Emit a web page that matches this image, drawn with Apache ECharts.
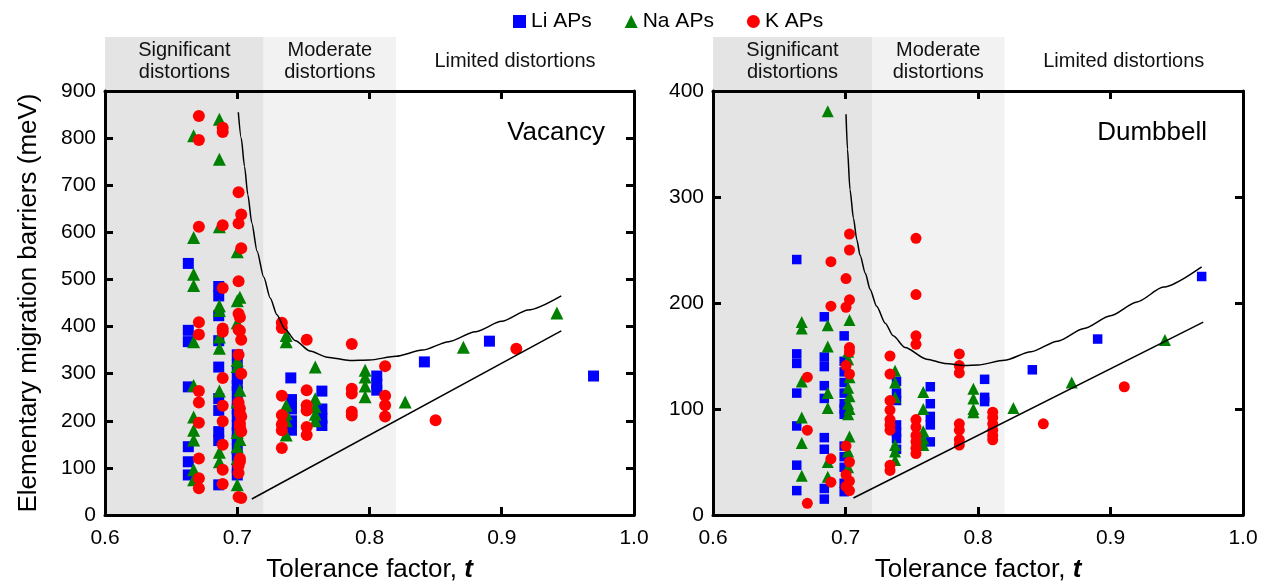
<!DOCTYPE html>
<html>
<head>
<meta charset="utf-8">
<title>Migration barriers vs tolerance factor</title>
<script src="https://cdn.jsdelivr.net/npm/echarts@6/dist/echarts.min.js"></script>
<style>
  html, body { margin: 0; padding: 0; background: #fff; }
  #chart { width: 1269px; height: 588px; }
</style>
</head>
<body>
<div id="chart"></div>
<script>
// Distortion regimes along the tolerance factor axis
const regionNames = ['Significant\ndistortions', 'Moderate\ndistortions', 'Limited distortions'];
const regionBounds = [0.6, 0.72, 0.82, 1.0];
const regionColors = ['#e4e4e4', '#f2f2f2', 'rgba(255,255,255,0)'];

// Axis ranges and tick labels
const xTicks = [0.6, 0.7, 0.8, 0.9, 1.0];
const vacYTicks = [0, 100, 200, 300, 400, 500, 600, 700, 800, 900];
const dumYTicks = [0, 100, 200, 300, 400];

// Vacancy mechanism: [tolerance factor, barrier meV]
const vacLi = [
  [0.663,534],[0.663,392],[0.663,368],[0.663,272],[0.663,145],[0.663,113],[0.663,85],
  [0.686,485],[0.686,465],[0.686,423],[0.686,370],[0.686,314],[0.686,247],[0.686,222],[0.686,177],[0.686,158],[0.686,64],
  [0.7,340],[0.7,318],[0.7,290],[0.7,275],[0.7,262],[0.7,240],[0.7,225],[0.7,210],[0.7,190],[0.7,175],[0.7,160],[0.7,140],[0.7,125],[0.7,100],[0.7,85],
  [0.7405,291],[0.741,245],[0.741,225],[0.741,200],[0.741,180],
  [0.764,263],[0.764,225],[0.764,205],[0.764,190],
  [0.8055,295],[0.8055,278],[0.8055,265],
  [0.8415,325],[0.8907,369],[0.9694,295]
];
const vacNa = [
  [0.667,805],[0.667,589],[0.667,511],[0.667,487],[0.667,368],[0.667,275],[0.667,208],[0.667,180],[0.667,159],[0.667,96],[0.667,75],
  [0.6865,840],[0.6865,755],[0.6865,612],[0.6865,444],[0.6865,434],[0.6865,378],[0.6865,354],[0.6865,263],[0.6865,133],[0.6865,113],
  [0.7,559],[0.702,462],[0.7,455],[0.7,408],[0.7,328],[0.7,315],[0.702,265],[0.7,240],[0.702,190],[0.7,175],[0.702,160],[0.7,145],[0.7,120],[0.7,64],
  [0.737,381],[0.737,368],[0.737,233],[0.737,215],[0.737,200],[0.737,170],
  [0.759,314],[0.759,247],[0.759,230],[0.759,214],[0.759,200],
  [0.7967,307],[0.7967,293],[0.7967,274],[0.7967,251],
  [0.827,240],[0.871,356],[0.9417,429]
];
const vacK = [
  [0.671,847],[0.671,796],[0.671,612],[0.671,409],[0.671,383],[0.671,263],[0.671,239],[0.671,196],[0.671,120],[0.671,78],[0.671,57],
  [0.689,822],[0.689,813],[0.689,615],[0.689,482],[0.689,396],[0.689,389],[0.689,291],[0.689,232],[0.689,199],[0.689,149],[0.689,96],[0.689,66],
  [0.701,685],[0.703,638],[0.701,619],[0.703,566],[0.701,496],[0.701,427],[0.702,420],[0.701,393],[0.702,391],[0.703,372],[0.701,340],[0.703,300],
  [0.701,239],[0.702,226],[0.702,215],[0.703,209],[0.702,194],[0.702,188],[0.703,177],[0.702,120],[0.702,114],[0.701,104],[0.701,89],[0.701,38],[0.703,36],
  [0.7337,408],[0.7337,397],[0.7337,253],[0.7337,212],[0.7337,192],[0.7337,180],[0.7337,142],
  [0.7525,372],[0.7525,265],[0.7525,233],[0.7525,222],[0.7525,187],[0.7525,170],
  [0.7866,363],[0.7866,268],[0.7866,258],[0.7866,219],[0.7866,211],
  [0.8118,316],[0.8118,253],[0.8118,233],[0.8118,209],
  [0.85,201],[0.911,353]
];
// Envelope guides for the vacancy panel
const vacUpper = [
  [0.7008,855],[0.703,800],[0.7055,740],[0.708,680],[0.711,620],[0.715,560],[0.72,505],[0.725,460],[0.73,425],
  [0.736,395],[0.744,370],[0.755,348],[0.768,335],[0.785,328],[0.80,329],[0.82,337],[0.84,350],[0.86,368],
  [0.88,389],[0.90,411],[0.92,435],[0.945,465]
];
const vacLower = [[0.711,34],[0.945,391]];

// Dumbbell (interstitialcy) mechanism: [tolerance factor, barrier meV]
const dumLi = [
  [0.6632,241],[0.6632,152],[0.6632,143],[0.6632,115],[0.6632,84],[0.6632,47],[0.6632,23],
  [0.684,187],[0.684,149],[0.684,140],[0.684,122],[0.684,110],[0.684,73],[0.684,62],[0.684,25],[0.684,15],
  [0.699,169],[0.699,145],[0.699,135],[0.699,125],[0.699,115],[0.699,105],[0.699,100],[0.699,95],[0.699,65],[0.699,55],[0.699,45],[0.699,30],[0.699,22],
  [0.7385,126],[0.7385,115],[0.7385,108],[0.7385,85],[0.7385,78],[0.7385,72],[0.7385,62],
  [0.764,121],[0.764,105],[0.764,93],[0.764,85],[0.764,69],
  [0.805,128],[0.805,111],[0.805,107],
  [0.841,137],[0.8903,166],[0.9688,225]
];
const dumNa = [
  [0.6866,381],
  [0.667,182],[0.667,176],[0.667,126],[0.667,92],[0.667,68],[0.667,37],
  [0.6866,179],[0.6866,159],[0.6866,115],[0.6866,101],[0.6866,50],[0.6866,36],
  [0.703,184],[0.702,154],[0.702,147],[0.703,130],[0.702,120],[0.703,112],[0.702,105],[0.703,100],[0.702,95],[0.703,74],[0.702,60],[0.702,45],
  [0.7374,136],[0.7374,125],[0.7374,111],[0.7374,66],[0.7374,60],[0.7374,52],
  [0.7587,116],[0.7587,100],[0.7587,79],[0.7587,72],[0.7587,66],
  [0.7965,119],[0.7965,110],[0.7965,100],[0.7965,97],
  [0.8267,101],[0.8707,125],[0.9411,165]
];
const dumK = [
  [0.6712,130],[0.6712,80],[0.6712,11],
  [0.689,239],[0.689,197],[0.689,53],[0.689,31],
  [0.703,265],[0.703,250],[0.7004,223],[0.703,203],[0.7004,196],[0.703,158],[0.703,154],[0.7004,141],[0.703,133],
  [0.7004,65],[0.703,50],[0.7004,38],[0.703,32],[0.7004,27],[0.703,23],
  [0.7336,150],[0.7336,133],[0.7336,108],[0.7336,99],[0.7336,90],[0.7336,85],[0.7336,80],[0.7336,47],[0.7336,42],
  [0.7532,261],[0.7532,208],[0.7532,169],[0.7532,161],[0.7532,90],[0.7532,83],[0.7532,75],[0.7532,69],[0.7532,63],[0.7532,58],
  [0.7859,152],[0.7859,141],[0.7859,134],[0.7859,86],[0.7859,80],[0.7859,71],[0.7859,66],
  [0.8111,97],[0.8111,92],[0.8111,86],[0.8111,80],[0.8111,75],[0.8111,71],
  [0.8493,86],[0.9104,121]
];
// Envelope guides for the dumbbell panel
const dumUpper = [
  [0.7004,378],[0.7015,345],[0.7034,307],[0.706,280],[0.7085,260],[0.711,245],[0.715,228],[0.7185,213],[0.7235,197],
  [0.73,181],[0.736,169],[0.745,158],[0.7613,147],[0.775,143],[0.79,141],[0.80,141.5],[0.82,146],[0.84,154],
  [0.86,164],[0.88,176],[0.90,188],[0.92,201],[0.94,215],[0.9688,234]
];
const dumLower = [[0.706,16],[0.97,182]];

const FONT = '"Liberation Sans", Arial, Helvetica, sans-serif';
const INK = '#000';

const chart = echarts.init(document.getElementById('chart'), null, { renderer: 'canvas' });

function hiddenAxis(gridIndex, min, max) {
  return { type: 'value', gridIndex, min, max, show: false };
}

function frameAxis(gridIndex, position, ticks, withLabels, isX) {
  const min = ticks[0], max = ticks[ticks.length - 1];
  return {
    type: 'value', gridIndex, position, min, max,
    interval: ticks[1] - ticks[0],
    z: 4,
    axisLine: { show: true, onZero: false, lineStyle: { color: INK, width: 3 } },
    axisTick: { show: true, inside: true, length: 8, lineStyle: { color: INK, width: 3 } },
    splitLine: { show: false },
    axisLabel: {
      show: withLabels,
      color: INK, fontFamily: FONT, fontSize: 21,
      margin: isX ? 13 : 9,
      formatter: isX ? (v) => v.toFixed(1) : (v) => String(v)
    }
  };
}

function regionArea() {
  return {
    silent: true,
    label: {
      show: true, position: 'insideTop', distance: 2,
      color: '#111', fontFamily: FONT, fontSize: 20, lineHeight: 22, align: 'center'
    },
    data: regionNames.map((name, i) => [
      { xAxis: regionBounds[i], name, itemStyle: { color: regionColors[i] },
        label: i === 2 ? { offset: [0, 11] } : {} },
      { xAxis: regionBounds[i + 1] }
    ])
  };
}

function scatter(name, data, xi, yi, symbol, size, color) {
  return {
    name, type: 'scatter', xAxisIndex: xi, yAxisIndex: yi, data,
    symbol, symbolSize: size, z: 2,
    itemStyle: { color, opacity: 1 },
    emphasis: { disabled: true }
  };
}

function guide(data, xi, yi) {
  return {
    type: 'line', xAxisIndex: xi, yAxisIndex: yi, data,
    showSymbol: false, symbol: 'none', smooth: 0.25, smoothMonotone: 'x',
    lineStyle: { color: INK, width: 1.5 }, z: 3, silent: true
  };
}

const xName = {
  name: 'Tolerance factor, {t|t}', nameLocation: 'middle', nameGap: 42,
  nameTextStyle: { color: INK, fontFamily: FONT, fontSize: 26,
    rich: { t: { fontFamily: FONT, fontSize: 26, fontWeight: 'bold', fontStyle: 'italic', color: INK } } }
};

const panelTitle = { color: INK, fontFamily: FONT, fontSize: 26, fontWeight: 'normal' };

const option = {
  backgroundColor: '#fff',
  animation: false,
  textStyle: { fontFamily: FONT },
  legend: {
    left: 508, top: 6,
    itemWidth: 13, itemHeight: 13, itemGap: 33,
    textStyle: { color: INK, fontFamily: FONT, fontSize: 21 },
    data: ['Li APs', 'Na APs', 'K APs']
  },
  title: [
    { text: 'Vacancy', right: 664, top: 120, padding: 0, textStyle: panelTitle },
    { text: 'Dumbbell', right: 62, top: 120, padding: 0, textStyle: panelTitle }
  ],
  grid: [
    { left: 105, right: 635, top: 37, bottom: 71 },
    { left: 713, right: 26, top: 37, bottom: 71 },
    { left: 105, right: 635, top: 91, bottom: 71 },
    { left: 713, right: 26, top: 91, bottom: 71 }
  ],
  xAxis: [
    hiddenAxis(0, regionBounds[0], regionBounds[3]),
    hiddenAxis(1, regionBounds[0], regionBounds[3]),
    Object.assign(frameAxis(2, 'bottom', xTicks, true, true), xName),
    frameAxis(2, 'top', xTicks, false, true),
    Object.assign(frameAxis(3, 'bottom', xTicks, true, true), xName),
    frameAxis(3, 'top', xTicks, false, true)
  ],
  yAxis: [
    hiddenAxis(0, 0, 1),
    hiddenAxis(1, 0, 1),
    Object.assign(frameAxis(2, 'left', vacYTicks, true, false), {
      name: 'Elementary migration barriers (meV)', nameLocation: 'middle', nameGap: 63,
      nameTextStyle: { color: INK, fontFamily: FONT, fontSize: 26 }
    }),
    frameAxis(2, 'right', vacYTicks, false, false),
    frameAxis(3, 'left', dumYTicks, true, false),
    frameAxis(3, 'right', dumYTicks, false, false)
  ],
  series: [
    { type: 'scatter', xAxisIndex: 0, yAxisIndex: 0, data: [], z: 0, silent: true, markArea: regionArea() },
    { type: 'scatter', xAxisIndex: 1, yAxisIndex: 1, data: [], z: 0, silent: true, markArea: regionArea() },

    guide(vacUpper, 2, 2),
    guide(vacLower, 2, 2),
    scatter('Li APs', vacLi, 2, 2, 'rect', 11, '#0000ff'),
    scatter('Na APs', vacNa, 2, 2, 'triangle', 13, '#008000'),
    scatter('K APs', vacK, 2, 2, 'circle', 12, '#ff0000'),

    guide(dumUpper, 4, 4),
    guide(dumLower, 4, 4),
    scatter('Li APs', dumLi, 4, 4, 'rect', 9.5, '#0000ff'),
    scatter('Na APs', dumNa, 4, 4, 'triangle', 12, '#008000'),
    scatter('K APs', dumK, 4, 4, 'circle', 11, '#ff0000')
  ]
};

chart.setOption(option);
</script>
</body>
</html>
